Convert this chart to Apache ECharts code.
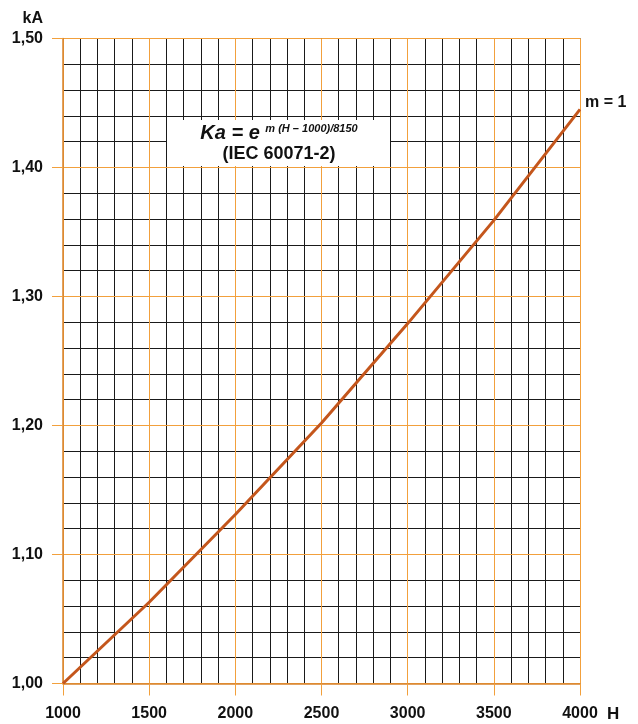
<!DOCTYPE html>
<html><head><meta charset="utf-8">
<script src="https://cdn.jsdelivr.net/npm/echarts@6/dist/echarts.min.js"></script>
<style>html,body{margin:0;padding:0;background:#fff}#c{width:638px;height:724px}</style>
</head><body><div id="c"></div>
<script>
const altitudes = [1000, 1500, 2000, 2500, 3000, 3500, 4000];
const kaValues = [1.000, 1.063, 1.131, 1.202, 1.279, 1.359, 1.445];
const yTickLabels = {'1':'1,00','1.1':'1,10','1.2':'1,20','1.3':'1,30','1.4':'1,40','1.5':'1,50'};
const xTickLabels = ['1000','1500','2000','2500','3000','3500','4000'];
const seriesLabel = 'm = 1';

const FONT = '"Liberation Sans", Arial, Helvetica, sans-serif';
const ORANGE = '#f2a03c';
const AXIS = '#d7832c';
const MINOR = '#1a1a1a';

const chart = echarts.init(document.getElementById('c'), null, {renderer:'canvas'});
const minorX = {type:'value', min:1000, max:4000, interval:100, position:'bottom', z:1,
  axisLine:{show:false}, axisTick:{show:false}, axisLabel:{show:false},
  splitLine:{show:true, lineStyle:{color:MINOR, width:1}}};
const majorX = {type:'value', min:1000, max:4000, interval:500, position:'bottom', z:2,
  axisLine:{show:true, onZero:false, lineStyle:{color:AXIS, width:1.5}},
  axisTick:{show:true, length:12, lineStyle:{color:ORANGE, width:1}},
  axisLabel:{show:true, margin:22, color:'#111', fontSize:16, fontWeight:'bold', fontFamily:FONT,
    formatter: v => xTickLabels[Math.round((v-1000)/500)] || ''},
  splitLine:{show:true, lineStyle:{color:ORANGE, width:1}}};
const minorY = {type:'value', min:1.0, max:1.5, interval:0.02, position:'left', z:1,
  axisLine:{show:false}, axisTick:{show:false}, axisLabel:{show:false},
  splitLine:{show:true, lineStyle:{color:MINOR, width:1}}};
const majorY = {type:'value', min:1.0, max:1.5, interval:0.1, position:'left', z:2,
  axisLine:{show:true, onZero:false, lineStyle:{color:AXIS, width:1.5}},
  axisTick:{show:true, length:11, lineStyle:{color:ORANGE, width:1}},
  axisLabel:{show:true, margin:20, color:'#111', fontSize:16, fontWeight:'bold', fontFamily:FONT,
    formatter: v => yTickLabels[String(+v.toFixed(2))] || ''},
  splitLine:{show:true, lineStyle:{color:ORANGE, width:1}}};

chart.setOption({
  animation:false,
  backgroundColor:'#fff',
  grid:{left:63, right:58, top:38.5, bottom:40.5, containLabel:false},
  xAxis:[minorX, majorX],
  yAxis:[minorY, majorY],
  series:[{
    type:'line', xAxisIndex:1, yAxisIndex:1, z:5,
    data: altitudes.map((h,i)=>[h, kaValues[i]]),
    showSymbol:false, symbol:'none',
    lineStyle:{color:'#c4561c', width:3},
    endLabel:{show:true, formatter:seriesLabel, distance:5, offset:[0,-7],
      color:'#111', fontSize:16, fontWeight:'bold', fontFamily:FONT}
  }],
  graphic:[
    {type:'rect', z:10, shape:{x:167, y:120, width:223, height:46}, style:{fill:'#fff'}},
    {type:'text', z:11, x:279, y:133, style:{
      text:'{a|Ka = e }{s|m (H – 1000)/8150}', align:'center', verticalAlign:'middle',
      rich:{a:{fontSize:20, fontStyle:'italic', fontWeight:'bold', fontFamily:FONT, fill:'#111', verticalAlign:'bottom'},
            s:{fontSize:11, fontStyle:'italic', fontWeight:'bold', fontFamily:FONT, fill:'#111', verticalAlign:'top', padding:[0,0,8,0]}}}},
    {type:'text', z:11, x:279, y:154, style:{text:'(IEC 60071-2)', align:'center', verticalAlign:'middle',
      fontSize:18, fontWeight:'bold', fontFamily:FONT, fill:'#111'}},
    {type:'text', z:11, x:43, y:19, style:{text:'kA', align:'right', verticalAlign:'middle',
      fontSize:16, fontWeight:'bold', fontFamily:FONT, fill:'#111'}},
    {type:'text', z:11, x:607, y:714, style:{text:'H', align:'left', verticalAlign:'middle',
      fontSize:17, fontWeight:'bold', fontFamily:FONT, fill:'#111'}}
  ]
});
</script></body></html>
